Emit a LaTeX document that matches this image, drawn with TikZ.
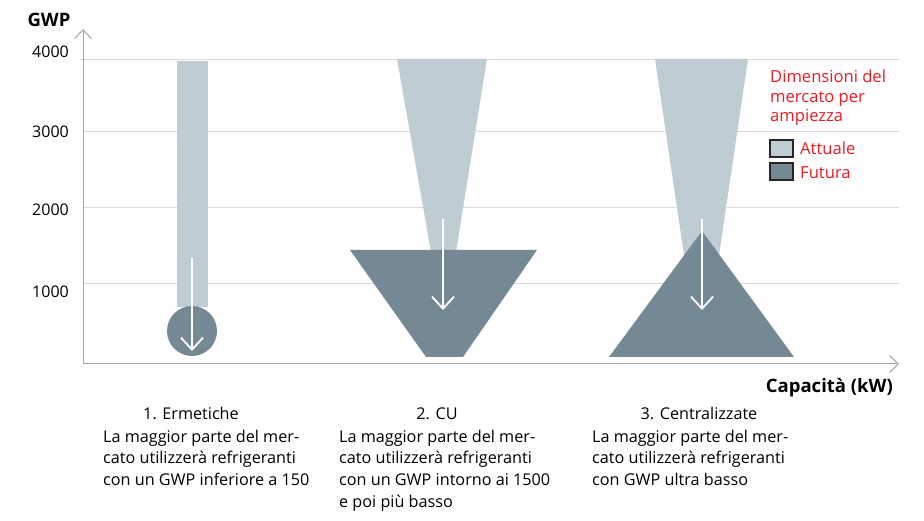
\documentclass[tikz,border=0pt]{standalone}
\usepackage{fontspec}
\setmainfont{Open Sans}
\usetikzlibrary{arrows.meta}
\definecolor{lightbar}{RGB}{190,205,212}
\definecolor{darkbar}{RGB}{117,137,149}
\definecolor{gridgray}{RGB}{218,218,218}
\definecolor{axisgray}{RGB}{165,165,165}
\definecolor{legred}{RGB}{237,28,36}
\tikzset{
  gridline/.style={gridgray, line width=1pt},
  axisline/.style={axisgray, line width=1pt, -{Straight Barb[length=9pt,width=17pt]}},
  downarrow/.style={white, line width=1.8pt, -{Straight Barb[length=12pt,width=22pt]}},
  ticklabel/.style={anchor=base east, inner sep=0pt, font=\fontsize{16}{19}\selectfont},
  axistitle/.style={inner sep=0pt, font=\fontsize{18.5}{21}\selectfont\bfseries},
  legtext/.style={anchor=base west, inner sep=0pt, text=legred, font=\fontsize{16.6}{19}\selectfont},
  legbox/.style={draw=black!85, line width=1.2pt},
  caption/.style={anchor=base west, inner sep=0pt, font=\fontsize{16.2}{19}\selectfont},
  captitle/.style={anchor=base, inner sep=0pt, font=\fontsize{16.2}{19}\selectfont},
}
\begin{document}
\begin{tikzpicture}[x=1pt,y=-1pt]
\useasboundingbox (0,0) rectangle (924,521);
\fill[white] (0,0) rectangle (924,521);
% grid
\draw[gridline] (80,60) -- (899,60);
\draw[gridline] (83,132) -- (899,132);
\draw[gridline] (83,208) -- (899,208);
\draw[gridline] (83,284) -- (899,284);
% axes
\coordinate (origin) at (83,364);
\coordinate (ytip) at (83,29);
\coordinate (xtip) at (899,364);
\draw[axisline] (origin) -- (ytip);
\draw[axisline] (origin) -- (xtip);
% tick labels
\node[ticklabel] (t4) at (69,58) {4000};
\node[ticklabel] (t3) at (69,138) {3000};
\node[ticklabel] (t2) at (69,216) {2000};
\node[ticklabel] (t1) at (69,298) {1000};
\node[axistitle, anchor=base] (gwp) at (49,27) {GWP};
\node[axistitle, anchor=base east] (cap) at (893,392) {Capacità (kW)};
% 1. Ermetiche
\fill[lightbar] (177,61) rectangle (208,307);
\fill[darkbar] (192,331) circle (25pt);
\coordinate (a1s) at (192,258);
\coordinate (a1e) at (192,351);
\draw[downarrow] (a1s) -- (a1e);
% 2. CU
\fill[lightbar] (397,59) -- (487,59) -- (456,252) -- (431,252) -- cycle;
\fill[darkbar] (350,250) -- (537,250) -- (463,357) -- (426,357) -- cycle;
\coordinate (a2s) at (443,219);
\coordinate (a2e) at (443,310);
\draw[downarrow] (a2s) -- (a2e);
% 3. Centralizzate
\fill[lightbar] (655,59) -- (748,59) -- (718,262) -- (685,262) -- cycle;
\fill[darkbar] (702,231) -- (794,357) -- (609,357) -- cycle;
\coordinate (a3s) at (702,219);
\coordinate (a3e) at (702,310);
\draw[downarrow] (a3s) -- (a3e);
% legend
\node[legtext] (l1) at (770,83) {Dimensioni del};
\node[legtext] (l2) at (770,103) {mercato per};
\node[legtext] (l3) at (770,122) {ampiezza};
\draw[legbox, fill=lightbar] (770,140) rectangle (793,157);
\draw[legbox, fill=darkbar] (770,163) rectangle (793,180);
\node[legtext] (att) at (800,155) {Attuale};
\node[legtext] (fut) at (800,179) {Futura};
% captions
\node[captitle] (c1t) at (191,419) {1. Ermetiche};
\node[caption] (c1a) at (103,442) {La maggior parte del mer-};
\node[caption] (c1b) at (103,463) {cato utilizzerà refrigeranti};
\node[caption] (c1c) at (103,485) {con un GWP inferiore a 150};
\node[captitle] (c2t) at (437,419) {2. CU};
\node[caption] (c2a) at (339,442) {La maggior parte del mer-};
\node[caption] (c2b) at (339,463) {cato utilizzerà refrigeranti};
\node[caption] (c2c) at (339,485) {con un GWP intorno ai 1500};
\node[caption] (c2d) at (339,507) {e poi più basso};
\node[captitle] (c3t) at (699,419) {3. Centralizzate};
\node[caption] (c3a) at (592,442) {La maggior parte del mer-};
\node[caption] (c3b) at (592,463) {cato utilizzerà refrigeranti};
\node[caption] (c3c) at (592,485) {con GWP ultra basso};
\end{tikzpicture}
\end{document}
